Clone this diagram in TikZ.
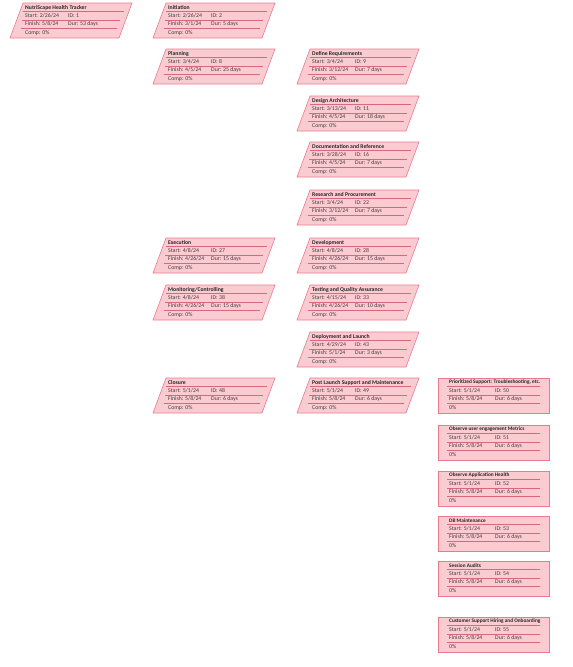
\documentclass[tikz,border=0pt]{standalone}
\usepackage{fontspec}
\setmainfont{Carlito}
\usetikzlibrary{positioning}

\definecolor{taskfill}{RGB}{250,204,210}
\definecolor{taskline}{RGB}{234,122,140}
\definecolor{taskrule}{RGB}{218,104,124}
\definecolor{tasktext}{RGB}{70,60,62}

\tikzset{
  phasebox/.style={draw=taskline, fill=taskfill, line width=0.6pt},
  rowrule/.style={draw=taskrule, line width=0.4pt},
  ttl/.style={anchor=west, inner sep=0pt, font=\fontsize{5.7}{7}\selectfont\bfseries, text=black!85},
  row/.style={anchor=west, inner sep=0pt, font=\fontsize{5.8}{7}\selectfont, text=tasktext},
}

% slanted box: #1 name, #2 x, #3 y, #4 title, #5 start, #6 id, #7 finish, #8 dur
\newcommand{\phasetask}[8]{%
  \begin{scope}[shift={(#2,#3)}]
    \draw[phasebox] (13,0) -- (122,0) -- (109,35) -- (0,35) -- cycle;
    \node[ttl] (#1) at (15,4.5) {#4};
    \draw[rowrule] (13,8.5) -- (114,8.5);
    \node[row] (#1-start) at (15,12.7) {Start: #5};
    \node[row] (#1-id) at (58,12.7) {ID: #6};
    \draw[rowrule] (12,16.8) -- (110,16.8);
    \node[row] (#1-finish) at (15,21) {Finish: #7};
    \node[row] (#1-dur) at (58,21) {Dur: #8};
    \draw[rowrule] (11,25.3) -- (107,25.3);
    \node[row] (#1-comp) at (15,30) {Comp: 0\%};
  \end{scope}}

% plain box for the leaf tasks
\newcommand{\leaftask}[8]{%
  \begin{scope}[shift={(#2,#3)}]
    \draw[phasebox] (0,0) rectangle (111,35);
    \node[ttl, font=\fontsize{5.3}{7}\selectfont\bfseries] (#1) at (11,4.5) {#4};
    \draw[rowrule] (9,8.5) -- (102,8.5);
    \node[row] (#1-start) at (11,12.7) {Start: #5};
    \node[row] (#1-id) at (57,12.7) {ID: #6};
    \draw[rowrule] (9,16.8) -- (102,16.8);
    \node[row] (#1-finish) at (11,21) {Finish: #7};
    \node[row] (#1-dur) at (57,21) {Dur: #8};
    \draw[rowrule] (9,25.3) -- (102,25.3);
    \node[row] (#1-comp) at (11,30) {0\%};
  \end{scope}}

\begin{document}
\begin{tikzpicture}[x=1pt,y=-1pt]
  \useasboundingbox (0,0) rectangle (573,667);

  % project
  \phasetask{root}{10}{3}{NutriScape Health Tracker}{2/26/24}{1}{5/8/24}{53 days}

  % phases
  \phasetask{initiation}{153}{3}{Initiation}{2/26/24}{2}{3/1/24}{5 days}
  \phasetask{planning}{153}{49}{Planning}{3/4/24}{8}{4/5/24}{25 days}
  \phasetask{execution}{153}{238}{Execution}{4/8/24}{27}{4/26/24}{15 days}
  \phasetask{monitoring}{153}{285}{Monitoring/Controlling}{4/8/24}{38}{4/26/24}{15 days}
  \phasetask{closure}{153}{378}{Closure}{5/1/24}{48}{5/8/24}{6 days}

  % tasks
  \phasetask{define}{297}{49}{Define Requirements}{3/4/24}{9}{3/12/24}{7 days}
  \phasetask{design}{297}{96}{Design Architecture}{3/13/24}{11}{4/5/24}{18 days}
  \phasetask{docs}{297}{142}{Documentation and Reference}{3/28/24}{16}{4/5/24}{7 days}
  \phasetask{research}{297}{190}{Research and Procurement}{3/4/24}{22}{3/12/24}{7 days}
  \phasetask{development}{297}{238}{Development}{4/8/24}{28}{4/26/24}{15 days}
  \phasetask{testing}{297}{285}{Testing and Quality Assurance}{4/15/24}{33}{4/26/24}{10 days}
  \phasetask{deployment}{297}{332}{Deployment and Launch}{4/29/24}{43}{5/1/24}{3 days}
  \phasetask{postlaunch}{297}{378}{Post Launch Support and Maintenance}{5/1/24}{49}{5/8/24}{6 days}

  % post launch work
  \leaftask{support}{438}{378}{Prioritized Support: Troubleshooting, etc.}{5/1/24}{50}{5/8/24}{6 days}
  \leaftask{engagement}{438}{425}{Observe user engagement Metrics}{5/1/24}{51}{5/8/24}{6 days}
  \leaftask{health}{438}{471}{Observe Application Health}{5/1/24}{52}{5/8/24}{6 days}
  \leaftask{dbmaint}{438}{516}{DB Maintenance}{5/1/24}{53}{5/8/24}{6 days}
  \leaftask{audits}{438}{561}{Session Audits}{5/1/24}{54}{5/8/24}{6 days}
  \leaftask{hiring}{438}{617}{Customer Support Hiring and Onboarding}{5/1/24}{55}{5/8/24}{6 days}
\end{tikzpicture}
\end{document}
